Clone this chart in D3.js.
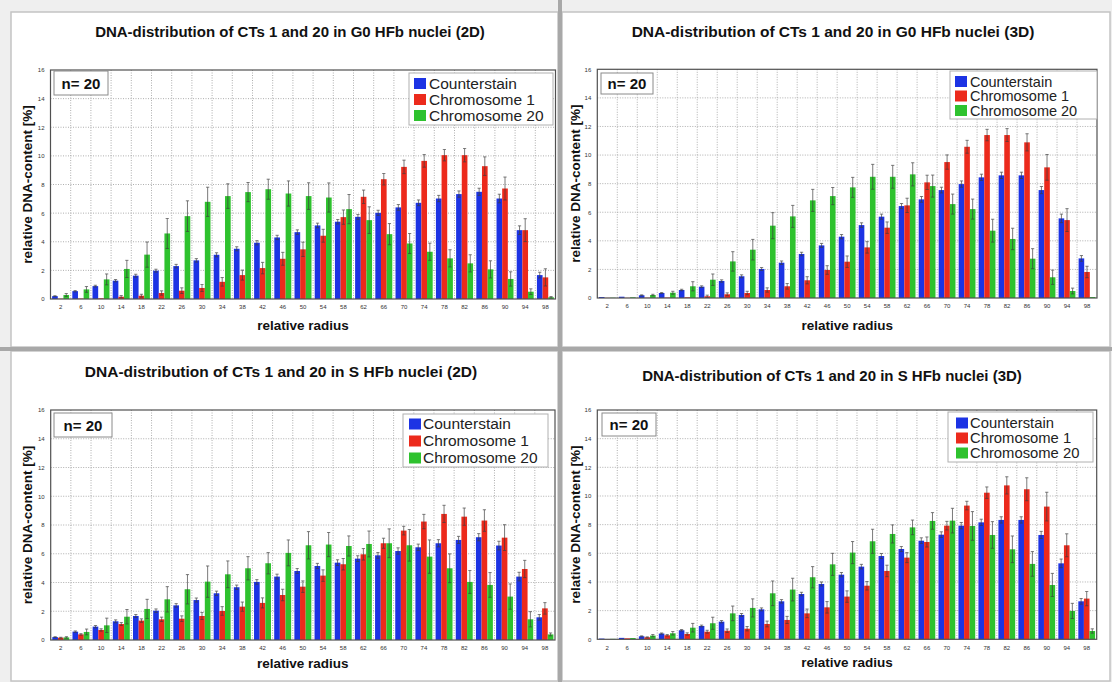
<!DOCTYPE html>
<html>
<head>
<meta charset="utf-8">
<script src="https://cdn.jsdelivr.net/npm/d3@7/dist/d3.min.js"></script>
<style>
  body { margin: 0; background: #fff; }
  svg { display: block; }
  text { font-family: "Liberation Sans", Arial, sans-serif; }
</style>
</head>
<body>
<svg id="chart" width="1112" height="682"></svg>
<script>
// relative radius classes (x axis)
var radius = [2, 6, 10, 14, 18, 22, 26, 30, 34, 38, 42, 46, 50, 54, 58, 62, 66, 70, 74, 78, 82, 86, 90, 94, 98];
var yTicks = [0, 2, 4, 6, 8, 10, 12, 14, 16];
var seriesNames = ["Counterstain", "Chromosome 1", "Chromosome 20"];

// G0 HFb nuclei (2D)
var g0_2d_counter = [0.2, 0.55, 0.9, 1.28, 1.63, 1.98, 2.3, 2.7, 3.09, 3.51, 3.93, 4.3, 4.67, 5.14, 5.4, 5.74, 6.02, 6.4, 6.72, 7.02, 7.33, 7.49, 7.02, 4.81, 1.67];
var g0_2d_chr1 = [0.02, 0.03, 0.05, 0.16, 0.23, 0.42, 0.58, 0.77, 1.2, 1.67, 2.16, 2.81, 3.47, 4.42, 5.72, 7.14, 8.37, 9.23, 9.65, 10.05, 10.05, 9.28, 7.72, 4.81, 1.51];
var g0_2d_chr20 = [0.28, 0.67, 1.37, 2.1, 3.1, 4.58, 5.79, 6.79, 7.19, 7.47, 7.67, 7.37, 7.19, 7.09, 6.28, 5.51, 4.53, 3.88, 3.3, 2.84, 2.49, 2.07, 1.4, 0.51, 0.12];
var g0_2d_counterErr = [0.03, 0.05, 0.06, 0.08, 0.1, 0.1, 0.12, 0.12, 0.14, 0.14, 0.15, 0.15, 0.16, 0.16, 0.16, 0.17, 0.18, 0.2, 0.2, 0.22, 0.22, 0.25, 0.3, 0.3, 0.2];
var g0_2d_chr1Err = [0.02, 0.03, 0.05, 0.08, 0.1, 0.15, 0.2, 0.25, 0.3, 0.35, 0.4, 0.45, 0.5, 0.45, 0.5, 0.47, 0.4, 0.47, 0.44, 0.4, 0.47, 0.65, 0.8, 0.8, 0.6];
var g0_2d_chr20Err = [0.1, 0.2, 0.38, 0.6, 0.88, 1.05, 1.07, 1.02, 0.86, 0.67, 0.7, 0.88, 0.93, 1.02, 1.02, 0.93, 0.74, 0.7, 0.6, 0.6, 0.6, 0.6, 0.5, 0.2, 0.05];

// G0 HFb nuclei (3D)
var g0_3d_counter = [0.07, 0.09, 0.19, 0.35, 0.56, 0.79, 1.19, 1.52, 2.03, 2.47, 3.08, 3.68, 4.29, 5.1, 5.69, 6.43, 6.9, 7.55, 7.97, 8.44, 8.58, 8.58, 7.55, 5.57, 2.77];
var g0_3d_chr1 = [0.01, 0.01, 0.02, 0.03, 0.05, 0.12, 0.26, 0.35, 0.56, 0.82, 1.24, 1.96, 2.54, 3.54, 4.92, 6.48, 8.09, 9.51, 10.58, 11.4, 11.4, 10.89, 9.14, 5.45, 1.82];
var g0_3d_chr20 = [0.02, 0.05, 0.21, 0.37, 0.82, 1.28, 2.56, 3.38, 5.06, 5.71, 6.83, 7.13, 7.74, 8.48, 8.48, 8.65, 7.83, 6.57, 6.22, 4.71, 4.13, 2.75, 1.45, 0.49, 0.07];
var g0_3d_counterErr = [0.02, 0.02, 0.03, 0.04, 0.05, 0.06, 0.08, 0.1, 0.1, 0.12, 0.12, 0.14, 0.15, 0.16, 0.18, 0.18, 0.2, 0.2, 0.22, 0.22, 0.22, 0.22, 0.25, 0.3, 0.2];
var g0_3d_chr1Err = [0.01, 0.01, 0.02, 0.03, 0.05, 0.08, 0.1, 0.12, 0.15, 0.2, 0.25, 0.3, 0.4, 0.4, 0.4, 0.5, 0.5, 0.5, 0.45, 0.4, 0.45, 0.6, 0.9, 0.8, 0.4];
var g0_3d_chr20Err = [0.02, 0.03, 0.05, 0.1, 0.32, 0.4, 0.68, 0.72, 0.91, 0.77, 0.77, 0.6, 0.7, 0.87, 0.8, 0.81, 0.77, 0.7, 0.7, 0.8, 0.75, 0.7, 0.5, 0.2, 0.03];

// S HFb nuclei (2D)
var s_2d_counter = [0.2, 0.58, 0.93, 1.3, 1.67, 2.04, 2.41, 2.78, 3.25, 3.67, 4.04, 4.41, 4.8, 5.15, 5.38, 5.66, 5.89, 6.19, 6.45, 6.73, 6.96, 7.15, 6.57, 4.41, 1.58];
var s_2d_chr1 = [0.16, 0.39, 0.7, 1.11, 1.35, 1.44, 1.48, 1.67, 2.02, 2.32, 2.58, 3.13, 3.71, 4.48, 5.27, 5.96, 6.73, 7.61, 8.24, 8.77, 8.58, 8.31, 7.12, 4.94, 2.2];
var s_2d_chr20 = [0.18, 0.56, 1.02, 1.62, 2.16, 2.83, 3.53, 4.06, 4.57, 4.99, 5.34, 6.06, 6.59, 6.64, 6.54, 6.68, 6.73, 6.59, 5.8, 4.99, 4.04, 3.83, 3.02, 1.44, 0.39];
var s_2d_counterErr = [0.03, 0.05, 0.08, 0.1, 0.1, 0.12, 0.12, 0.14, 0.15, 0.15, 0.16, 0.17, 0.18, 0.18, 0.2, 0.2, 0.2, 0.22, 0.22, 0.25, 0.25, 0.25, 0.3, 0.3, 0.2];
var s_2d_chr1Err = [0.03, 0.05, 0.08, 0.1, 0.12, 0.15, 0.2, 0.25, 0.3, 0.32, 0.35, 0.4, 0.4, 0.4, 0.4, 0.4, 0.35, 0.3, 0.5, 0.6, 0.6, 0.75, 0.9, 0.6, 0.4];
var s_2d_chr20Err = [0.05, 0.2, 0.5, 0.5, 0.67, 0.88, 1.02, 1.09, 0.93, 0.81, 0.74, 0.9, 0.95, 0.84, 0.7, 0.9, 1.0, 1.1, 1.16, 1.0, 0.8, 0.86, 0.88, 0.53, 0.1];

// S HFb nuclei (3D)
var s_3d_counter = [0.05, 0.1, 0.21, 0.4, 0.63, 0.93, 1.23, 1.7, 2.09, 2.65, 3.16, 3.86, 4.51, 5.07, 5.81, 6.3, 6.88, 7.3, 7.93, 8.16, 8.33, 8.33, 7.28, 5.3, 2.65];
var s_3d_chr1 = [0.02, 0.07, 0.14, 0.28, 0.37, 0.53, 0.6, 0.74, 1.07, 1.35, 1.81, 2.23, 2.98, 3.74, 4.77, 5.7, 6.79, 7.93, 9.33, 10.23, 10.74, 10.47, 9.26, 6.56, 2.84];
var s_3d_chr20 = [0.03, 0.09, 0.26, 0.42, 0.81, 1.12, 1.81, 2.19, 3.21, 3.47, 4.33, 5.23, 6.05, 6.84, 7.35, 7.81, 8.26, 8.28, 7.91, 7.28, 6.28, 5.26, 3.79, 1.98, 0.58];
var s_3d_counterErr = [0.02, 0.02, 0.03, 0.04, 0.05, 0.06, 0.08, 0.1, 0.1, 0.12, 0.12, 0.14, 0.15, 0.16, 0.18, 0.18, 0.2, 0.2, 0.22, 0.22, 0.22, 0.22, 0.25, 0.3, 0.2];
var s_3d_chr1Err = [0.01, 0.02, 0.03, 0.05, 0.08, 0.1, 0.12, 0.15, 0.2, 0.25, 0.3, 0.4, 0.4, 0.3, 0.4, 0.35, 0.35, 0.3, 0.3, 0.4, 0.6, 0.8, 1.0, 0.8, 0.5];
var s_3d_chr20Err = [0.02, 0.05, 0.08, 0.12, 0.3, 0.42, 0.51, 0.63, 0.86, 0.79, 0.74, 0.77, 0.77, 0.84, 0.63, 0.51, 0.58, 0.86, 1.0, 0.93, 0.93, 0.86, 0.81, 0.53, 0.15];

var colors = ["#1c33e4", "#ec2a1c", "#2ec22e"];

// panel table built from the arrays above + layout
var panels = [
  { title: "DNA-distribution of CTs 1 and 20 in G0 HFb nuclei (2D)",
    values: [g0_2d_counter, g0_2d_chr1, g0_2d_chr20], errors: [g0_2d_counterErr, g0_2d_chr1Err, g0_2d_chr20Err],
    frame: [11, 12, 547, 335], plot: { l: 50.5, r: 555.5, t: 70, b: 299 },
    titleX: 290, titleY: 37, titleSize: 15, xlabY: 330, ylabX: 27,
    nbox: [54, 71, 54, 24], legend: { x: 409, y: 73, w: 144, h: 52, row0: 83.5, step: 16, sq: 414, tx: 429, fs: 15.5 } },
  { title: "DNA-distribution of CTs 1 and 20 in G0 HFb nuclei (3D)",
    values: [g0_3d_counter, g0_3d_chr1, g0_3d_chr20], errors: [g0_3d_counterErr, g0_3d_chr1Err, g0_3d_chr20Err],
    frame: [562, 12, 548, 335], plot: { l: 597.3, r: 1097, t: 69.3, b: 298 },
    titleX: 833, titleY: 37, titleSize: 15.5, xlabY: 330, ylabX: 575,
    nbox: [601, 73, 52, 21], legend: { x: 950, y: 71, w: 147, h: 48, row0: 81.5, step: 14.5, sq: 955, tx: 970, fs: 14.5 } },
  { title: "DNA-distribution of CTs 1 and 20 in S HFb nuclei (2D)",
    values: [s_2d_counter, s_2d_chr1, s_2d_chr20], errors: [s_2d_counterErr, s_2d_chr1Err, s_2d_chr20Err],
    frame: [11, 351, 547, 330], plot: { l: 50.7, r: 555, t: 410, b: 640 },
    titleX: 281, titleY: 377, titleSize: 15.5, xlabY: 668, ylabX: 27,
    nbox: [54, 413, 58, 24], legend: { x: 403, y: 414, w: 145, h: 53, row0: 424, step: 17, sq: 409, tx: 423, fs: 15.5 } },
  { title: "DNA-distribution of CTs 1 and 20 in S HFb nuclei (3D)",
    values: [s_3d_counter, s_3d_chr1, s_3d_chr20], errors: [s_3d_counterErr, s_3d_chr1Err, s_3d_chr20Err],
    frame: [562, 351, 548, 330], plot: { l: 597.3, r: 1096.7, t: 410, b: 639.3 },
    titleX: 832, titleY: 381, titleSize: 15, xlabY: 667, ylabX: 575,
    nbox: [602, 413, 54, 23], legend: { x: 948, y: 412, w: 145, h: 50, row0: 423, step: 15, sq: 956, tx: 970, fs: 14.8 } }
];

var svg = d3.select("#chart");

// page background + separators
svg.append("rect").attr("width", 1112).attr("height", 682).style("fill", "#efefef");
panels.forEach(function(p) {
  svg.append("rect").attr("x", p.frame[0]).attr("y", p.frame[1]).attr("width", p.frame[2]).attr("height", p.frame[3])
    .style("fill", "#fff").style("stroke", "#c4c4c4").style("stroke-width", 1.5);
});
svg.append("rect").attr("x", 558).attr("y", 0).attr("width", 4).attr("height", 682).style("fill", "#a8a8a8");
svg.append("rect").attr("x", 0).attr("y", 347).attr("width", 1112).attr("height", 4).style("fill", "#a8a8a8");

var draw = function(p) {
  var g = svg.append("g");
  var x = d3.scaleBand().domain(radius).range([p.plot.l, p.plot.r]);
  var bw = x.bandwidth();
  var xs = d3.scaleBand().domain([0, 1, 2]).range([bw * 0.08, bw * 0.92]);
  var y = d3.scaleLinear().domain([0, 16]).range([p.plot.b, p.plot.t]);

  // dotted grid
  g.selectAll(".hg").data(yTicks.slice(1, -1)).enter().append("line")
    .attr("x1", p.plot.l).attr("x2", p.plot.r)
    .attr("y1", function(d) { return y(d); }).attr("y2", function(d) { return y(d); })
    .style("stroke", "#9a9a9a").style("stroke-width", 0.8).style("stroke-dasharray", "1,1.5");
  g.selectAll(".vg").data(radius.slice(1)).enter().append("line")
    .attr("x1", function(d) { return x(d); }).attr("x2", function(d) { return x(d); })
    .attr("y1", p.plot.t).attr("y2", p.plot.b)
    .style("stroke", "#9a9a9a").style("stroke-width", 0.8).style("stroke-dasharray", "1,1.5");

  var rows = [];
  radius.forEach(function(r, i) {
    for (var s = 0; s < 3; s++) rows.push({ r: r, s: s, v: p.values[s][i], e: p.errors[s][i] });
  });

  g.selectAll("rect.bar").data(rows).enter().append("rect")
    .attr("x", function(d) { return x(d.r) + xs(d.s); })
    .attr("width", xs.bandwidth())
    .attr("y", function(d) { return y(d.v); })
    .attr("height", function(d) { return y(0) - y(d.v); })
    .style("fill", function(d) { return colors[d.s]; });

  // error bars
  var eb = g.selectAll("g.err").data(rows.filter(function(d) { return d.v > 0.1; })).enter().append("g")
    .style("stroke", "#3c3c3c").style("stroke-width", 0.8).style("opacity", 0.85);
  var cx = function(d) { return x(d.r) + xs(d.s) + xs.bandwidth() / 2; };
  eb.append("line")
    .attr("x1", cx).attr("x2", cx)
    .attr("y1", function(d) { return y(d.v + d.e); })
    .attr("y2", function(d) { return y(Math.max(0, d.v - d.e)); });
  eb.append("line")
    .attr("x1", function(d) { return cx(d) - 1.6; }).attr("x2", function(d) { return cx(d) + 1.6; })
    .attr("y1", function(d) { return y(d.v + d.e); }).attr("y2", function(d) { return y(d.v + d.e); });
  eb.append("line")
    .attr("x1", function(d) { return cx(d) - 1.6; }).attr("x2", function(d) { return cx(d) + 1.6; })
    .attr("y1", function(d) { return y(Math.max(0, d.v - d.e)); }).attr("y2", function(d) { return y(Math.max(0, d.v - d.e)); });

  // plot frame
  g.append("rect").attr("x", p.plot.l).attr("y", p.plot.t)
    .attr("width", p.plot.r - p.plot.l).attr("height", p.plot.b - p.plot.t)
    .style("fill", "none").style("stroke", "#505050").style("stroke-width", 1.2);

  // tick labels
  var ya = g.append("g").attr("transform", "translate(" + p.plot.l + ",0)")
    .call(d3.axisLeft(y).tickValues(yTicks).tickSize(0).tickPadding(6));
  var xa = g.append("g").attr("transform", "translate(0," + p.plot.b + ")")
    .call(d3.axisBottom(x).tickSize(0).tickPadding(6));
  [ya, xa].forEach(function(a) {
    a.select(".domain").remove();
    a.selectAll("text").style("font-size", "6px").style("fill", "#333").style("font-family", "Liberation Sans, Arial, sans-serif");
  });

  // title + axis labels
  g.append("text").attr("x", p.titleX).attr("y", p.titleY).attr("text-anchor", "middle")
    .style("font-size", p.titleSize + "px").style("font-weight", "bold").style("fill", "#111").text(p.title);
  g.append("text").attr("x", (p.plot.l + p.plot.r) / 2).attr("y", p.xlabY).attr("text-anchor", "middle")
    .style("font-size", "13.5px").style("font-weight", "bold").style("fill", "#111").text("relative radius");
  g.append("text").attr("transform", "translate(" + (p.ylabX + 5) + "," + ((p.plot.t + p.plot.b) / 2) + ") rotate(-90)")
    .attr("text-anchor", "middle")
    .style("font-size", "13.5px").style("font-weight", "bold").style("fill", "#111").text("relative DNA-content [%]");

  // n= 20 box
  g.append("rect").attr("x", p.nbox[0]).attr("y", p.nbox[1]).attr("width", p.nbox[2]).attr("height", p.nbox[3])
    .style("fill", "#fff").style("stroke", "#8a8a8a").style("stroke-width", 1);
  g.append("text").attr("x", p.nbox[0] + p.nbox[2] / 2).attr("y", p.nbox[1] + p.nbox[3] / 2 + 5.5)
    .attr("text-anchor", "middle").style("font-size", "15px").style("font-weight", "bold").style("fill", "#111").text("n= 20");

  // legend
  var L = p.legend;
  g.append("rect").attr("x", L.x).attr("y", L.y).attr("width", L.w).attr("height", L.h)
    .style("fill", "#fff").style("stroke", "#b0b0b0").style("stroke-width", 1);
  var li = g.selectAll("g.leg").data(seriesNames).enter().append("g")
    .attr("transform", function(d, i) { return "translate(0," + (L.row0 + i * L.step) + ")"; });
  li.append("rect").attr("x", L.sq).attr("y", -5.5).attr("width", 12).attr("height", 11)
    .style("fill", function(d, i) { return colors[i]; });
  li.append("text").attr("x", L.tx).attr("y", 5).style("font-size", L.fs + "px").style("fill", "#222")
    .text(function(d) { return d; });
};

panels.forEach(draw);
</script>
</body>
</html>
